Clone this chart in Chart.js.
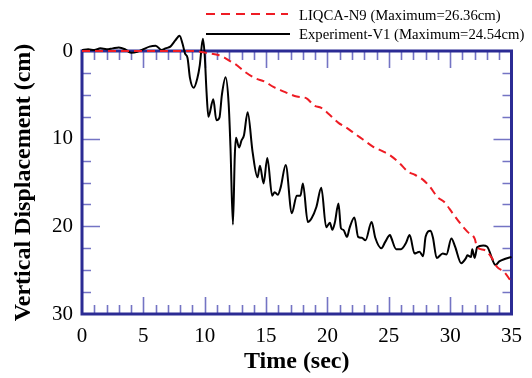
<!DOCTYPE html>
<html>
<head>
<meta charset="utf-8">
<script src="https://cdn.jsdelivr.net/npm/chart.js@4"></script>
<style>
    body { margin: 0; background: #fff; }
    #wrap { width: 532px; height: 378px; }
</style>
</head>
<body>
<div id="wrap"><canvas id="dispChart" width="532" height="378"></canvas></div>
<script>
// Experiment-V1 (measured)
var expTime = [0, 0.5, 1, 1.5, 2, 2.5, 3, 3.5, 4, 4.5, 5, 5.5, 6, 6.5, 6.8, 7.2, 7.6, 7.95, 8.2, 8.4,
    8.6, 8.8, 9.1, 9.4, 9.6, 9.85, 10.0, 10.15, 10.3, 10.7, 10.95, 11.2, 11.4, 11.7, 11.95, 12.1, 12.3, 12.45,
    12.55, 12.8, 13.0, 13.2, 13.5, 13.9, 14.3, 14.5, 14.8, 15.1, 15.5, 15.7, 15.95, 16.2, 16.6, 17.1, 17.5,
    17.8, 18.0, 18.4, 18.7, 19.1, 19.5, 19.9, 20.2, 20.4, 20.6, 20.9, 21.1, 21.3, 21.6, 21.8, 22.2, 22.5,
    22.8, 23.1, 23.6, 23.9, 24.4, 24.7, 25.1, 25.2, 25.6, 26.0, 26.4, 26.7, 27.1, 27.3, 27.5, 27.8, 28.0,
    28.4, 28.6, 28.9, 29.4, 29.7, 30.1, 30.4, 30.9, 31.3, 31.4, 31.7, 31.8, 32.0, 32.2, 32.7, 33.0, 33.7,
    34.0, 34.5, 35.0];
var expDisp = [-0.1, -0.2, -0.1, -0.3, -0.2, -0.3, -0.4, -0.2, 0.2, 0.1, -0.2, -0.5, -0.6, -0.1, -0.3, -0.5, -1.2, -1.75, -0.8, 0.3,
    0.8, 3.1, 4.2, 3.1, 1.6, -1.4, 0.5, 4.7, 7.5, 5.5, 7.9, 7.6, 5.0, 3.0, 6.0, 11.0, 19.8, 12.0,
    9.9, 11.0, 10.2, 9.6, 7.0, 11.5, 14.4, 13.1, 15.1, 12.2, 16.5, 16.1, 16.4, 15.5, 13.0, 18.5, 16.5,
    16.5, 15.1, 19.5, 19.1, 17.8, 15.6, 20.1, 19.6, 20.4, 19.6, 17.4, 20.2, 20.4, 21.2, 20.2, 19.0, 21.2,
    21.3, 21.6, 19.5, 21.3, 22.5, 21.8, 21.0, 21.3, 22.6, 22.6, 21.9, 21.0, 23.1, 23.0, 22.9, 23.4, 21.2,
    20.5, 21.3, 23.6, 23.1, 23.2, 21.4, 22.3, 24.2, 23.6, 23.3, 23.5, 22.6, 23.6, 22.4, 22.2, 22.3, 24.4,
    24.0, 23.7, 23.5];

// LIQCA-N9 (numerical)
var numTime = [0, 5, 9.0, 9.5, 9.9, 10.5, 11.1, 11.6, 12.0, 12.5, 13.3, 14.1, 14.9, 15.6, 16.4, 16.9, 17.5,
    18.3, 18.9, 19.5, 20.2, 20.9, 21.5, 22.2, 22.9, 23.7, 24.6, 25.1, 25.8, 26.6, 27.1, 27.8, 28.3, 29.0,
    29.5, 30.2, 30.9, 31.4, 32.0, 32.2, 32.8, 33.4, 33.8, 34.4, 35.0];
var numDisp = [0, 0, 0, 0.05, 0.15, 0.3, 0.45, 0.75, 1.1, 1.5, 2.4, 3.1, 3.5, 4.1, 4.6, 4.9, 5.2,
    5.4, 6.2, 6.5, 7.3, 8.2, 8.7, 9.4, 10.1, 10.9, 11.5, 11.9, 12.7, 13.8, 14.1, 14.7, 15.4, 16.7,
    17.2, 18.5, 19.8, 20.6, 21.4, 22.4, 22.7, 23.6, 24.6, 25.2, 26.36];

var xTicks = [0, 5, 10, 15, 20, 25, 30, 35];
var yTicks = [0, 10, 20, 30];
var legendLabels = ['LIQCA-N9 (Maximum=26.36cm)', 'Experiment-V1 (Maximum=24.54cm)'];

function toPoints(xs, ys) {
    var pts = [];
    xs.forEach((x, i) => pts.push({x: x, y: ys[i]}));
    return pts;
}

var frameColor = '#2b2b94';
var tickColor = '#7474c4';

// frame + inward ticks on all four sides
const frameTicks = {
    id: 'frameTicks',
    beforeDatasetsDraw(chart) {
        const ctx = chart.ctx;
        const a = chart.chartArea;
        const xs = chart.scales.x, ys = chart.scales.y;
        ctx.save();
        ctx.strokeStyle = tickColor;
        ctx.lineWidth = 1.6;
        for (let t = 1; t < 35; t++) {
            const px = Math.round(xs.getPixelForValue(t)) + 0.5;
            const len = (t % 5 === 0) ? 17 : 9;
            ctx.beginPath();
            ctx.moveTo(px, a.bottom); ctx.lineTo(px, a.bottom - len);
            ctx.moveTo(px, a.top); ctx.lineTo(px, a.top + len);
            ctx.stroke();
        }
        for (let v = 2.5; v < 30; v += 2.5) {
            const py = Math.round(ys.getPixelForValue(v)) + 0.5;
            const len = (v % 10 === 0) ? 18 : 9;
            ctx.beginPath();
            ctx.moveTo(a.left, py); ctx.lineTo(a.left + len, py);
            ctx.moveTo(a.right, py); ctx.lineTo(a.right - len, py);
            ctx.stroke();
        }
        ctx.strokeStyle = frameColor;
        ctx.lineWidth = 3;
        ctx.strokeRect(a.left, a.top, a.right - a.left, a.bottom - a.top);
        ctx.restore();
    },
    afterDraw(chart) {
        const ctx = chart.ctx;
        ctx.save();
        ctx.lineWidth = 2;
        // red dashed
        ctx.strokeStyle = '#ee1c24';
        ctx.setLineDash([9, 6]);
        ctx.beginPath(); ctx.moveTo(206, 14); ctx.lineTo(288, 14); ctx.stroke();
        // black solid
        ctx.setLineDash([]);
        ctx.strokeStyle = '#000';
        ctx.beginPath(); ctx.moveTo(206, 34); ctx.lineTo(290, 34); ctx.stroke();
        ctx.fillStyle = '#000';
        ctx.font = '14.7px "Liberation Serif", "Times New Roman", serif';
        ctx.textBaseline = 'alphabetic';
        ctx.fillText(legendLabels[0], 299, 20);
        ctx.fillText(legendLabels[1], 299, 39);
        ctx.restore();
    }
};

const serif = '"Liberation Serif", "Times New Roman", serif';

new Chart(document.getElementById('dispChart'), {
    type: 'line',
    data: {
        datasets: [
            {
                label: legendLabels[0],
                data: toPoints(numTime, numDisp),
                borderColor: '#ee1c24',
                borderWidth: 2,
                borderDash: [8, 5],
                pointRadius: 0,
                fill: false,
                clip: false,
                cubicInterpolationMode: 'monotone'
            },
            {
                label: legendLabels[1],
                data: toPoints(expTime, expDisp),
                borderColor: '#000',
                borderWidth: 2,
                pointRadius: 0,
                fill: false,
                clip: false,
                cubicInterpolationMode: 'monotone'
            }
        ]
    },
    options: {
        responsive: false,
        animation: false,
        layout: {padding: {left: 0, top: 51, right: 9, bottom: 0}},
        plugins: {legend: {display: false}, tooltip: {enabled: false}},
        scales: {
            x: {
                type: 'linear',
                min: 0, max: 35,
                afterFit(scale) { scale.height = 64; },
                afterBuildTicks(scale) { scale.ticks = xTicks.map(v => ({value: v})); },
                grid: {display: false, drawTicks: false},
                border: {display: false},
                ticks: {color: '#000', padding: 10, font: {family: serif, size: 21}},
                title: {display: true, text: 'Time (sec)', color: '#000', padding: {top: 0, bottom: 2},
                    font: {family: serif, size: 24, weight: 'bold'}}
            },
            y: {
                type: 'linear',
                reverse: true,
                min: 0, max: 30,
                afterFit(scale) { scale.width = 82; },
                afterBuildTicks(scale) { scale.ticks = yTicks.map(v => ({value: v})); },
                grid: {display: false, drawTicks: false},
                border: {display: false},
                ticks: {color: '#000', padding: 9, font: {family: serif, size: 21}},
                title: {display: true, text: 'Vertical Displacement (cm)', color: '#000', padding: {top: 9, bottom: 0},
                    font: {family: serif, size: 24, weight: 'bold'}}
            }
        }
    },
    plugins: [frameTicks]
});
</script>
</body>
</html>
